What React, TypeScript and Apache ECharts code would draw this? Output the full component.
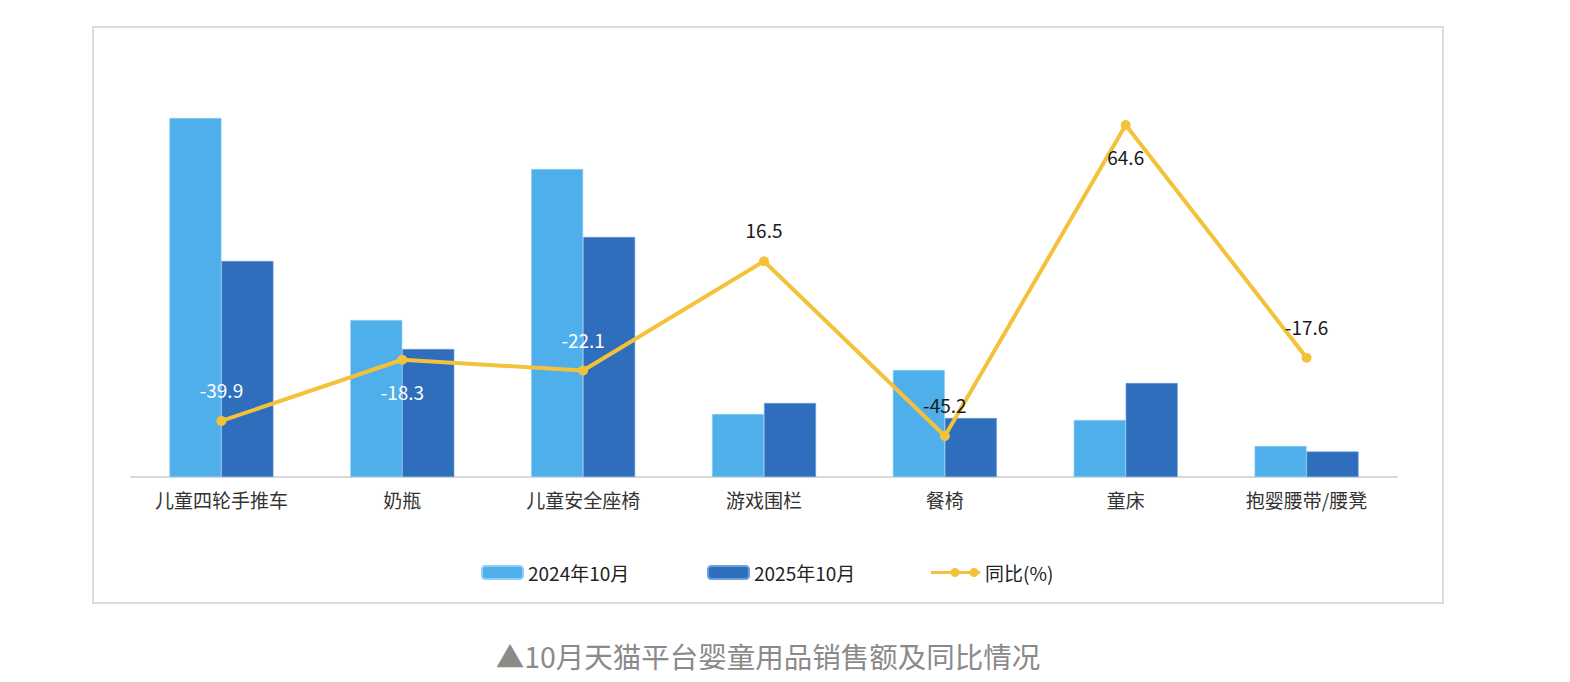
import React, { useEffect, useRef } from "react";
import * as echarts from "echarts";

const categories = ["儿童四轮手推车", "奶瓶", "儿童安全座椅", "游戏围栏", "餐椅", "童床", "抱婴腰带/腰凳"];
const sales2024 = [35.9, 15.7, 30.8, 6.3, 10.7, 5.7, 3.1];
const sales2025 = [21.6, 12.8, 24.0, 7.4, 5.9, 9.4, 2.55];
const yoy = [-39.9, -18.3, -22.1, 16.5, -45.2, 64.6, -17.6];
const yoyLabelColors = ["#ffffff", "#ffffff", "#ffffff", "#1a1a1a", "#1a1a1a", "#1a1a1a", "#1a1a1a"];
const yoyLabelPositions = ["top", "bottom", "top", "top", "top", "bottom", "top"];
const legendNames = ["2024年10月", "2025年10月", "同比(%)"];
const caption = "▲10月天猫平台婴童用品销售额及同比情况";

const FONT = "'Noto Sans CJK SC', 'Noto Sans', sans-serif";
const LINE_ICON =
  "path://M0,3.5 L20,3.5 L20,6.5 L0,6.5 Z M28,3.5 L39,3.5 L39,6.5 L28,6.5 Z M47,3.5 L49,3.5 L49,6.5 L47,6.5 Z " +
  "M19.5,5 A4.5,4.5 0 1,1 28.5,5 A4.5,4.5 0 1,1 19.5,5 Z M38.5,5 A4.5,4.5 0 1,1 47.5,5 A4.5,4.5 0 1,1 38.5,5 Z";

export default function App() {
  const ref = useRef<HTMLDivElement>(null);
  useEffect(() => {
    document.body.style.margin = "0";
    const chart = echarts.init(ref.current!, null, { renderer: "svg" });
    const legendText = { fontSize: 19, color: "#222", fontFamily: FONT };
    chart.setOption({
      animation: false,
      backgroundColor: "#ffffff",
      textStyle: { fontFamily: FONT },
      graphic: [
        {
          type: "rect",
          shape: { x: 93, y: 27, width: 1350, height: 576 },
          style: { fill: "none", stroke: "#dcdcdc", lineWidth: 2 },
          silent: true,
        },
        {
          type: "text",
          x: 768,
          y: 655,
          style: {
            text: caption,
            fill: "#8a8a8a",
            font: `28.5px ${FONT}`,
            textAlign: "center",
            textVerticalAlign: "middle",
          },
        },
      ],
      legend: [
        {
          data: [legendNames[0]],
          left: 476,
          top: 558,
          itemWidth: 41,
          itemHeight: 13,
          textStyle: legendText,
        },
        {
          data: [legendNames[1]],
          left: 702,
          top: 558,
          itemWidth: 41,
          itemHeight: 13,
          textStyle: legendText,
        },
        {
          data: [{ name: legendNames[2], icon: LINE_ICON }],
          left: 926,
          top: 558,
          itemWidth: 49,
          itemHeight: 10,
          textStyle: legendText,
        },
      ],
      grid: { left: 131, right: 1570 - 1397, top: 77, bottom: 682 - 477, containLabel: false },
      xAxis: {
        type: "category",
        data: categories,
        axisLine: { show: true, lineStyle: { color: "#d9d9d9", width: 2 } },
        axisTick: { show: false },
        axisLabel: { fontSize: 19, color: "#333", margin: 13, fontFamily: FONT, interval: 0 },
      },
      yAxis: [
        { type: "value", min: 0, max: 40, show: false, splitLine: { show: false } },
        { type: "value", min: -59.7, max: 81.55, show: false, splitLine: { show: false } },
      ],
      series: [
        {
          name: legendNames[0],
          type: "bar",
          data: sales2024,
          barWidth: 52,
          barGap: "0%",
          itemStyle: { color: "#4fafea", borderColor: "#8fd0f5", borderWidth: 0.6 },
        },
        {
          name: legendNames[1],
          type: "bar",
          data: sales2025,
          barWidth: 52,
          itemStyle: { color: "#2e6ebd", borderColor: "#6f9fda", borderWidth: 0.6 },
        },
        {
          name: legendNames[2],
          type: "line",
          yAxisIndex: 1,
          data: yoy.map((v, i) => ({
            value: v,
            label: {
              color: yoyLabelColors[i],
              position: yoyLabelPositions[i] as any,
            },
          })),
          symbol: "circle",
          symbolSize: 10,
          lineStyle: { color: "#f4c23a", width: 4 },
          itemStyle: { color: "#f4c23a" },
          label: {
            show: true,
            fontSize: 19,
            distance: 17,
            fontFamily: FONT,
            formatter: (p: any) => String(p.value),
          },
          z: 5,
        },
      ],
    });
    return () => chart.dispose();
  }, []);
  return <div ref={ref} style={{ width: 1570, height: 682 }} />;
}
